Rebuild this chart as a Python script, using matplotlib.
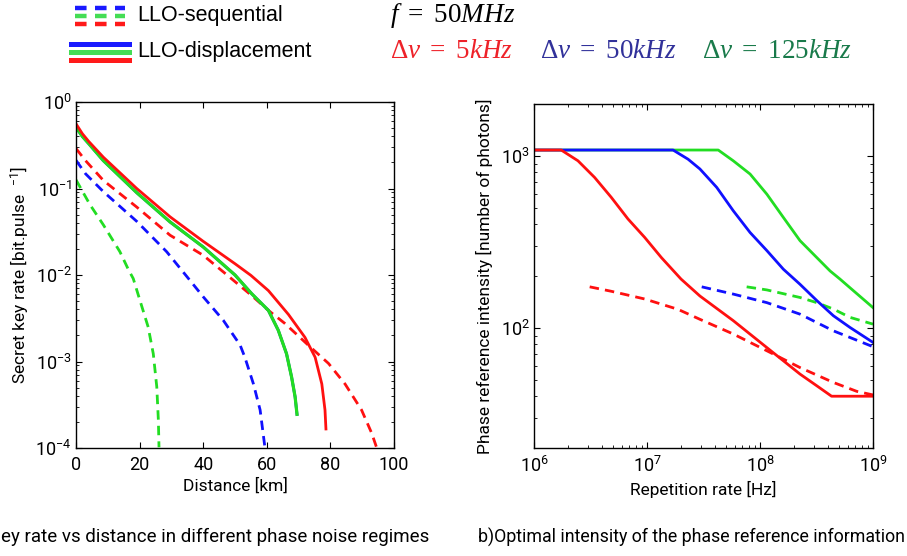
import matplotlib
matplotlib.use('Agg')
import matplotlib.pyplot as plt
from matplotlib.lines import Line2D
from matplotlib.ticker import LogLocator, NullFormatter, FixedLocator
import numpy as np

plt.rcParams['font.family'] = ['Roboto', 'DejaVu Sans']
plt.rcParams['mathtext.fontset'] = 'custom'
plt.rcParams['mathtext.rm'] = 'Liberation Serif'
plt.rcParams['mathtext.it'] = 'Liberation Serif:italic'

RED = '#ff1010'
BLUE = '#1010ff'
GREEN = '#22dd22'

# ---- a) secret key rate vs distance ----
# LLO-displacement (solid)
d_disp_5k = [0, 2, 4, 8.6, 19.1, 29.6, 40, 50, 55, 60.5, 66.8, 72, 75.2, 77.3, 78.3, 78.6]
r_disp_5k = [0.56, 0.43, 0.35, 0.23, 0.10, 0.047, 0.0245, 0.0135, 0.0099, 0.0066, 0.0035,
             0.0019, 0.00112, 0.00055, 0.000275, 0.000166]
d_disp_125k = [0, 2, 4, 8.6, 19.1, 29.6, 40, 50, 55.2, 60.5, 63.6, 66.2, 67.8, 68.9, 69.5]
r_disp_125k = [0.51, 0.40, 0.33, 0.21, 0.0895, 0.041, 0.0211, 0.0100, 0.0061, 0.0039,
               0.0023, 0.00123, 0.00066, 0.00039, 0.000245]
d_disp_50k = d_disp_125k   # hidden under the green curve
r_disp_50k = r_disp_125k
# LLO-sequential (dashed)
d_seq_5k = [0, 3, 8.6, 19.1, 29.6, 40, 47.5, 55.2, 60.5, 65.7, 73, 79.4, 84.6, 89.8, 93, 94.5]
r_seq_5k = [0.29, 0.21, 0.124, 0.061, 0.0288, 0.0169, 0.0100, 0.0058, 0.0039, 0.00275,
            0.00155, 0.00095, 0.00055, 0.000275, 0.000148, 0.000102]
d_seq_50k = [0, 3, 8.6, 19.1, 28.5, 35.8, 40, 46.3, 51.6, 53.1, 55.8, 57.9, 59.4]
r_seq_50k = [0.212, 0.148, 0.092, 0.0417, 0.0186, 0.0087, 0.0056, 0.0030, 0.00155,
             0.00112, 0.00055, 0.000275, 0.000102]
d_seq_125k = [0, 4.4, 8.6, 13.8, 16.5, 18, 20.1, 22.7, 24.3, 25.4, 25.9, 26.1]
r_seq_125k = [0.126, 0.065, 0.038, 0.0186, 0.0115, 0.0091, 0.0051, 0.0025, 0.00123,
              0.00051, 0.00021, 0.000102]

# ---- b) optimal phase reference intensity vs repetition rate ----
f_disp_5k = [1e6, 1.74e6, 2.45e6, 3.44e6, 4.83e6, 6.79e6, 9.55e6, 1.34e7, 2.0e7, 2.94e7,
             5.8e7, 1.15e8, 2.26e8, 3.18e8, 4.3e8, 1e9]
n_disp_5k = [1080, 1080, 935, 748, 573, 429, 335, 256, 192, 153, 110, 76.7, 53.8, 46, 40, 40]
f_disp_50k = [1e6, 1.7e7, 2.31e7, 2.94e7, 4.14e7, 5.8e7, 8.17e7, 1.15e8, 1.61e8, 2.26e8,
              3.18e8, 4.46e8, 6.25e8, 1e9]
n_disp_50k = [1080, 1080, 955, 838, 655, 479, 358, 281, 219, 179, 144, 117.5, 100.5, 82.2]
f_disp_125k = [1e6, 4.27e7, 5.8e7, 8.17e7, 1.15e8, 1.61e8, 2.26e8, 3.18e8, 4.17e8, 5.1e8,
               6.25e8, 1e9]
n_disp_125k = [1080, 1080, 935, 783, 598, 438, 321, 256, 214, 192, 171, 131]
f_seq_5k = [3.11e6, 4.83e6, 9.55e6, 1.88e7, 2.94e7, 5.8e7, 1.15e8, 2.26e8, 4.46e8, 7.18e8, 1e9]
n_seq_5k = [173, 163, 147, 128, 112, 92, 73.5, 58.7, 48.1, 42.7, 40.7]
f_seq_50k = [3.05e7, 5.8e7, 1.15e8, 2.26e8, 4.46e8, 1e9]
n_seq_50k = [173, 157, 140, 120, 96, 77.6]
f_seq_125k = [7.62e7, 1.15e8, 2.26e8, 3.18e8, 4.46e8, 6.25e8, 1e9]
n_seq_125k = [173, 166, 150, 140, 128.5, 115, 105]

W, H = 907, 556
fig = plt.figure(figsize=(W / 100, H / 100), dpi=100)

def px(x0, y0, x1, y1):
    return [x0 / W, 1 - y1 / H, (x1 - x0) / W, (y1 - y0) / H]

ax1 = fig.add_axes(px(76, 102, 394, 448))
ax2 = fig.add_axes(px(534, 104, 873, 448))

lw = 2.0
dash = (0, (3.4, 2.2))
ax1.plot(d_seq_5k, r_seq_5k, color=RED, lw=lw, ls=dash)
ax1.plot(d_seq_50k, r_seq_50k, color=BLUE, lw=lw, ls=dash)
ax1.plot(d_seq_125k, r_seq_125k, color=GREEN, lw=lw, ls=dash)
ax1.plot(d_disp_50k, r_disp_50k, color=BLUE, lw=lw)
ax1.plot(d_disp_125k, r_disp_125k, color=GREEN, lw=lw + 0.3)
ax1.plot(d_disp_5k, r_disp_5k, color=RED, lw=lw)
ax1.set_yscale('log')
ax1.set_xlim(0, 100)
ax1.set_ylim(1e-4, 1)
ax1.set_xticks([0, 20, 40, 60, 80, 100])
ax1.set_xlabel('Distance [km]', fontsize=12.5)
ax1.set_ylabel(r'Secret key rate [bit.pulse  $^{\mathdefault{-1}}$]', fontsize=12.5)
ax1.xaxis.set_label_coords(0.5, -0.085)
ax1.yaxis.set_label_coords(-0.145, 0.5)

ax2.plot(f_seq_5k, n_seq_5k, color=RED, lw=lw, ls=dash)
ax2.plot(f_seq_50k, n_seq_50k, color=BLUE, lw=lw, ls=dash)
ax2.plot(f_seq_125k, n_seq_125k, color=GREEN, lw=lw, ls=dash)
ax2.plot(f_disp_125k, n_disp_125k, color=GREEN, lw=lw)
ax2.plot(f_disp_50k, n_disp_50k, color=BLUE, lw=lw)
ax2.plot(f_disp_5k, n_disp_5k, color=RED, lw=lw)
ax2.set_xscale('log')
ax2.set_yscale('log')
ax2.set_xlim(1e6, 1e9)
ax2.set_ylim(20, 2000)
ax2.yaxis.set_major_locator(FixedLocator([100, 1000]))
ax2.set_xlabel('Repetition rate [Hz]', fontsize=12.5)
ax2.set_ylabel('Phase reference intensity [number of photons]', fontsize=12.5)
ax2.xaxis.set_label_coords(0.5, -0.095)
ax2.yaxis.set_label_coords(-0.12, 0.5)

for ax in (ax1, ax2):
    for s in ax.spines.values():
        s.set_linewidth(1.0)
    ax.tick_params(which='both', direction='in', top=True, right=True, labelsize=13)
    ax.tick_params(which='major', length=4, width=0.8)
    ax.tick_params(which='minor', length=2.2, width=0.6)
    ax.tick_params(axis='x', pad=6)
    ax.tick_params(axis='y', pad=3)
for ax in (ax1, ax2):
    ax.yaxis.set_minor_locator(LogLocator(base=10, subs=np.arange(2, 10)))
    ax.yaxis.set_minor_formatter(NullFormatter())
ax2.xaxis.set_minor_locator(LogLocator(base=10, subs=np.arange(2, 10)))
ax2.xaxis.set_minor_formatter(NullFormatter())

# ---- legend / annotation header ----
def hline(x0, x1, y, color, ls, lwid):
    fig.add_artist(Line2D([x0 / W, x1 / W], [1 - y / H, 1 - y / H], color=color,
                          ls=ls, lw=lwid, transform=fig.transFigure))

hline(75, 125, 8, '#1a1aff', (0, (2.6, 1.9)), 3.2)
hline(75, 125, 16, '#44dd55', (0, (2.6, 1.9)), 3.2)
hline(75, 125, 24, '#ff1a1a', (0, (2.6, 1.9)), 3.2)
hline(71, 129, 44, '#1a1aff', '-', 3.6)
hline(71, 129, 52, '#44dd55', '-', 3.6)
hline(71, 129, 60, '#ff1a1a', '-', 3.6)
fig.text(137 / W, 1 - 16 / H, 'LLO-sequential', fontsize=15.5, family='Liberation Sans',
         va='center', ha='left')
fig.text(137 / W, 1 - 51 / H, 'LLO-displacement', fontsize=15.5, family='Liberation Sans',
         va='center', ha='left')
fig.text(390 / W, 1 - 16 / H, r'$f\ =\ 50MHz$', fontsize=19.5, va='center', ha='left')
fig.text(390 / W, 1 - 51 / H, r'$\Delta\nu\ =\ 5kHz$', fontsize=19.5, va='center', ha='left',
         color='#ee2229')
fig.text(540 / W, 1 - 51 / H, r'$\Delta\nu\ =\ 50kHz$', fontsize=19.5, va='center', ha='left',
         color='#31319a')
fig.text(702 / W, 1 - 51 / H, r'$\Delta\nu\ =\ 125kHz$', fontsize=19.5, va='center', ha='left',
         color='#197a4a')

# ---- captions (left one is cropped in the source image) ----
fig.text(1 / W, 1 - 537 / H, 'ey rate vs distance in different phase noise regimes',
         fontsize=13.5, ha='left', va='center')
fig.text(478 / W, 1 - 537 / H, 'b)Optimal intensity of the phase reference information',
         fontsize=12.8, ha='left', va='center')

fig.savefig('out.png', dpi=100)
